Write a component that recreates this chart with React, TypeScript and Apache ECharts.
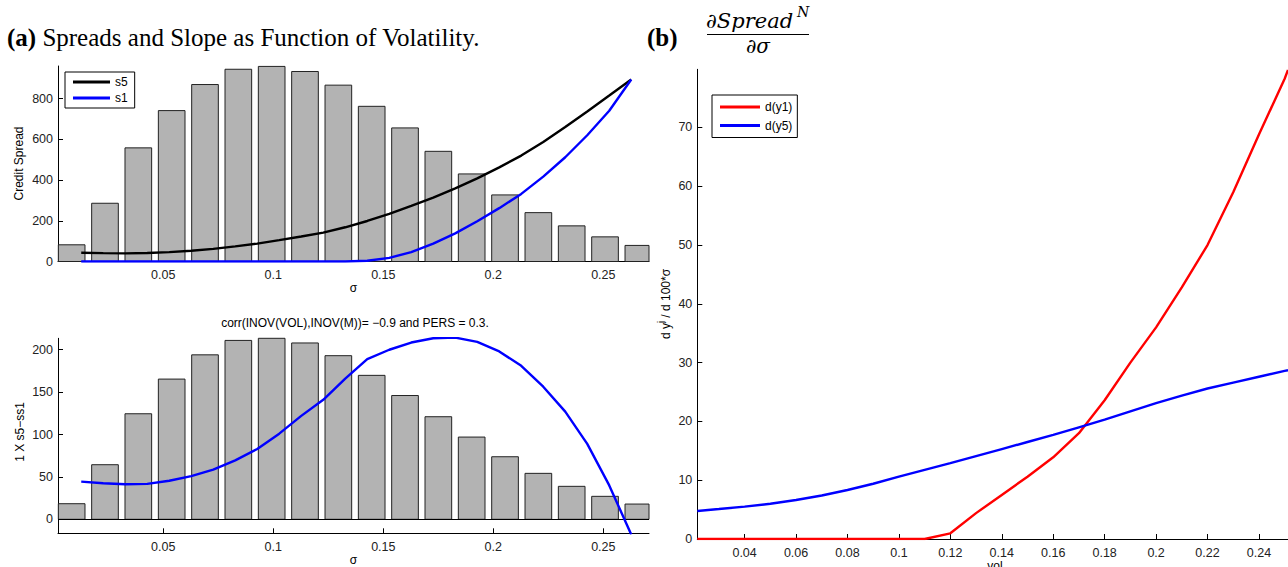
import React, { useEffect, useRef } from "react";
import * as echarts from "echarts";

// ---------- data ----------
const barSigma = [
  0.00835, 0.0235, 0.03865, 0.05381, 0.06896, 0.08411, 0.09926, 0.11441, 0.12957,
  0.14472, 0.15987, 0.17502, 0.19017, 0.20533, 0.22048, 0.23563, 0.25078, 0.26593,
];
const spreadBars = [82, 286, 558, 741, 869, 944, 958, 933, 866, 762, 656, 541, 430, 327, 240, 175, 121, 79];
const diffBars = [18.4, 64.4, 124.5, 165.4, 194, 211, 214, 208, 193, 169.8, 146, 121, 97, 73.8, 54.2, 38.9, 27.1, 18];

const lineSigma = [
  0.0127, 0.0227, 0.0327, 0.0427, 0.0527, 0.0627, 0.0727, 0.0827, 0.0927, 0.1027, 0.1127, 0.1227, 0.1327,
  0.1427, 0.1527, 0.1627, 0.1727, 0.1827, 0.1927, 0.2027, 0.2127, 0.2227, 0.2327, 0.2427, 0.2527, 0.2627,
];
const s5Values = [43, 41, 40, 42, 46, 53, 62, 74, 88, 105, 123, 142, 168, 199, 234, 273, 314, 359, 408, 462, 520, 587, 660, 737, 815, 894];
const s1Values = [0, 0, 0, 0, 0, 0, 0, 0, 0, 0, 0, 0, 0, 4, 18, 46, 88, 138, 198, 262, 332, 417, 512, 620, 740, 894];
const diffValues = [44.4, 42.5, 41.3, 41.8, 45.5, 51, 58.5, 69.5, 83, 101, 122, 141, 166, 189, 200, 208.5, 213.5, 214.3, 209.2, 198, 181, 156.4, 127, 89, 40, -18];

const rightSigma = [
  0.0216, 0.03, 0.04, 0.05, 0.06, 0.07, 0.08, 0.09, 0.1, 0.11, 0.12, 0.13, 0.14, 0.15, 0.16, 0.17, 0.18,
  0.19, 0.2, 0.21, 0.22, 0.23, 0.24, 0.25, 0.2513,
];
const dY1Values = [0, 0, 0, 0, 0, 0, 0, 0, 0, 0, 0.97, 4.4, 7.5, 10.6, 13.9, 18.0, 23.6, 30.0, 36.0, 42.8, 50.0, 59.0, 68.8, 78.3, 79.8];
const dY5Values = [4.77, 5.1, 5.5, 6.0, 6.64, 7.4, 8.34, 9.4, 10.6, 11.75, 12.9, 14.1, 15.3, 16.5, 17.7, 19.0, 20.3, 21.7, 23.1, 24.4, 25.6, 26.6, 27.6, 28.6, 28.7];

const spreadTicks = [0, 200, 400, 600, 800];
const diffTicks = [0, 50, 100, 150, 200];
const sigmaTicks = [0.05, 0.1, 0.15, 0.2, 0.25];
const volTicks = [0.04, 0.06, 0.08, 0.1, 0.12, 0.14, 0.16, 0.18, 0.2, 0.22, 0.24];
const slopeTicks = [0, 10, 20, 30, 40, 50, 60, 70];

const leftTitle = "Spreads and Slope as Function of Volatility.";
const bottomTitle = "corr(INOV(VOL),INOV(M))= \u22120.9 and PERS = 0.3.";

// ---------- style ----------
const SANS = "'Liberation Sans', Arial, Helvetica, sans-serif";
const SERIF = "'Liberation Serif', 'Times New Roman', serif";
const MATH = "'DejaVu Serif', 'Liberation Serif', serif";
const BAR_W = 0.01212;
const LBL = 12.5;

const fmt = (v: number) => String(+Number(v).toFixed(4));

function xAxisCfg(grid: number, min: number, max: number, ticks: number[]) {
  return {
    type: "value",
    gridIndex: grid,
    min,
    max,
    axisLine: { show: true, onZero: false, lineStyle: { color: "#000", width: 1 } },
    axisTick: { show: true, inside: true, length: 5, customValues: ticks, lineStyle: { color: "#000" } },
    axisLabel: { customValues: ticks, formatter: fmt, color: "#222", fontSize: LBL, fontFamily: SANS, margin: 7 },
    splitLine: { show: false },
  };
}
function yAxisCfg(grid: number, min: number, max: number, ticks: number[]) {
  return {
    type: "value",
    gridIndex: grid,
    min,
    max,
    position: "left",
    axisLine: { show: true, onZero: false, lineStyle: { color: "#000", width: 1 } },
    axisTick: { show: true, inside: true, length: 5, customValues: ticks, lineStyle: { color: "#000" } },
    axisLabel: { customValues: ticks, formatter: fmt, color: "#222", fontSize: LBL, fontFamily: SANS, margin: 5 },
    splitLine: { show: false },
  };
}

const renderBar = (params: any, api: any) => {
  const x = api.value(0);
  const h = api.value(1);
  const p0 = api.coord([x - BAR_W / 2, h]);
  const p1 = api.coord([x + BAR_W / 2, 0]);
  const cs = params.coordSys;
  const rect = echarts.graphic.clipRectByRect(
    { x: p0[0], y: p0[1], width: p1[0] - p0[0], height: p1[1] - p0[1] },
    { x: cs.x, y: cs.y, width: cs.width, height: cs.height }
  );
  if (!rect) return null;
  return {
    type: "rect",
    shape: rect,
    style: { fill: "#b3b3b3", stroke: "#222", lineWidth: 1 },
  };
};

const lineSeries = (name: string, xs: number[], ys: number[], color: string, axis: number, extra: any = {}) => ({
  type: "line",
  name,
  xAxisIndex: axis,
  yAxisIndex: axis,
  data: xs.map((x, i) => [x, ys[i]]),
  symbol: "none",
  showSymbol: false,
  smooth: false,
  lineStyle: { color, width: 2.4 },
  itemStyle: { color },
  z: 5,
  ...extra,
});

const txt = (x: number, y: number, text: string, opts: any = {}, rotation = 0) => ({
  type: "text",
  x,
  y,
  rotation,
  style: {
    text,
    fill: "#000",
    fontSize: 12,
    fontFamily: SANS,
    align: "center",
    verticalAlign: "middle",
    ...opts,
  },
});

export default function App() {
  const ref = useRef<HTMLDivElement>(null);
  useEffect(() => {
    if (!ref.current) return;
    const chart = echarts.init(ref.current, null, { renderer: "svg" });
    const option: any = {
      animation: false,
      backgroundColor: "#fff",
      grid: [
        { left: 58, top: 66, right: 1288 - 649, bottom: 567 - 261.5 },
        { left: 58, top: 338.3, right: 1288 - 649, bottom: 567 - 533.3 },
        { left: 697.3, top: 69.3, right: -4, bottom: 567 - 539 },
      ],
      xAxis: [
        xAxisCfg(0, 0.00214, 0.27077, sigmaTicks),
        xAxisCfg(1, 0.00214, 0.27077, sigmaTicks),
        xAxisCfg(2, 0.0216, 0.2513, volTicks),
      ],
      yAxis: [
        yAxisCfg(0, 0, 960, spreadTicks),
        yAxisCfg(1, -16.5, 213.5, diffTicks),
        yAxisCfg(2, 0, 79.9, slopeTicks),
      ],
      legend: [
        {
          data: ["s5", "s1"],
          orient: "vertical",
          left: 65,
          top: 72,
          icon: "rect",
          itemWidth: 37,
          itemHeight: 3,
          itemGap: 4,
          padding: [4, 7, 4, 8],
          borderColor: "#000",
          borderWidth: 1,
          backgroundColor: "#fff",
          textStyle: { color: "#000", fontSize: 12, fontFamily: SANS },
          selectedMode: false,
        },
        {
          data: ["d(y1)", "d(y5)"],
          orient: "vertical",
          left: 712,
          top: 95,
          icon: "rect",
          itemWidth: 40,
          itemHeight: 3,
          itemGap: 6.5,
          padding: [6, 5, 6, 8],
          borderColor: "#000",
          borderWidth: 1,
          backgroundColor: "#fff",
          textStyle: { color: "#000", fontSize: 12, fontFamily: SANS },
          selectedMode: false,
        },
      ],
      series: [
        {
          type: "custom",
          name: "hist1",
          xAxisIndex: 0,
          yAxisIndex: 0,
          renderItem: renderBar,
          encode: { x: 0, y: 1 },
          data: barSigma.map((s, i) => [s, spreadBars[i]]),
          z: 2,
        },
        {
          type: "custom",
          name: "hist2",
          xAxisIndex: 1,
          yAxisIndex: 1,
          renderItem: renderBar,
          encode: { x: 0, y: 1 },
          data: barSigma.map((s, i) => [s, diffBars[i]]),
          z: 2,
        },
        lineSeries("s5", lineSigma, s5Values, "#000", 0),
        lineSeries("s1", lineSigma, s1Values, "#0000ff", 0),
        lineSeries("s5-ss1", lineSigma, diffValues, "#0000ff", 1, {
          markLine: {
            silent: true,
            symbol: "none",
            label: { show: false },
            lineStyle: { color: "#000", width: 1, type: "solid" },
            data: [{ yAxis: 0 }],
          },
        }),
        lineSeries("d(y1)", rightSigma, dY1Values, "#ff0000", 2),
        lineSeries("d(y5)", rightSigma, dY5Values, "#0000ff", 2),
      ],
      graphic: [
        {
          type: "text",
          x: 7,
          y: 37,
          style: {
            text: "{b|(a)} " + leftTitle,
            rich: { b: { fontWeight: "bold", fontFamily: SERIF, fontSize: 25 } },
            fill: "#000",
            fontSize: 25,
            fontFamily: SERIF,
            align: "left",
            verticalAlign: "middle",
          },
        },
        txt(647, 37, "(b)", { fontFamily: SERIF, fontSize: 25, fontWeight: "bold", align: "left" }),
        txt(706, 21, "\u2202Spread", { fontFamily: MATH, fontStyle: "italic", fontSize: 21, align: "left" }),
        txt(797, 12, "N", { fontFamily: MATH, fontStyle: "italic", fontSize: 14, align: "left" }),
        {
          type: "line",
          shape: { x1: 707, y1: 34.5, x2: 809, y2: 34.5 },
          style: { stroke: "#000", lineWidth: 1 },
        },
        txt(758, 46, "\u2202\u03c3", { fontFamily: MATH, fontStyle: "italic", fontSize: 20 }),
        txt(18.7, 163.5, "Credit Spread", {}, Math.PI / 2),
        txt(353.5, 288, "\u03c3", {}),
        txt(355, 323, bottomTitle, {}),
        txt(20, 432, "1 X s5\u2212ss1", {}, Math.PI / 2),
        txt(353.5, 560, "\u03c3", {}),
        {
          type: "text",
          x: 664,
          y: 304,
          rotation: Math.PI / 2,
          style: {
            text: "{n|d y}{s|j}{n| / d 100*\u03c3}",
            rich: {
              n: { fontSize: 12, fontFamily: SANS, lineHeight: 16, verticalAlign: "bottom" },
              s: { fontSize: 9, fontFamily: SANS, lineHeight: 16, verticalAlign: "top" },
            },
            fill: "#000",
            fontSize: 12,
            fontFamily: SANS,
            align: "center",
            verticalAlign: "middle",
          },
        },
        txt(995, 560, "vol", { verticalAlign: "top" }),
      ],
    };
    chart.setOption(option);
    return () => chart.dispose();
  }, []);
  return (
    <div
      ref={ref}
      style={{ position: "absolute", left: 0, top: 0, width: 1288, height: 567, background: "#fff" }}
    />
  );
}
